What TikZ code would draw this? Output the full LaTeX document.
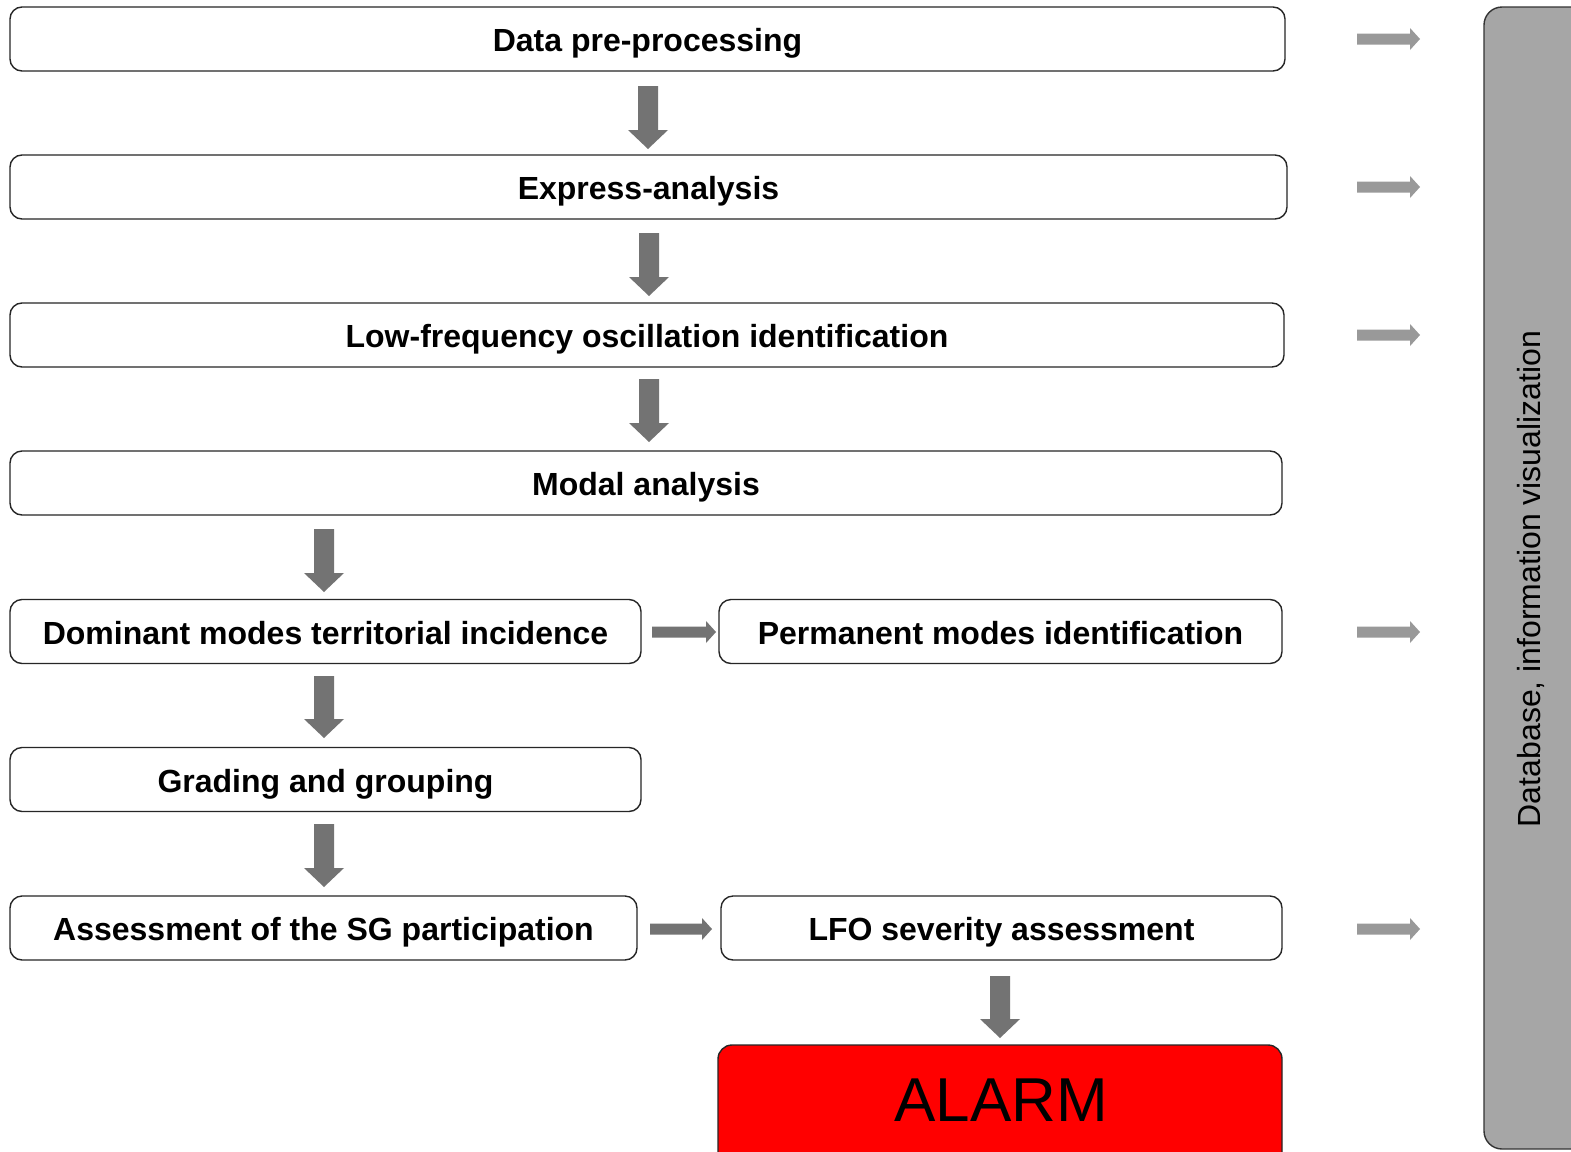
\documentclass[tikz,border=0pt]{standalone}
\usepackage{fontspec}
\setmainfont{Liberation Sans}
\begin{document}
\begin{tikzpicture}[x=1pt,y=-1pt,
  box/.style={draw=black!85, line width=1.4pt, rounded corners=12pt, inner sep=0pt,
    font=\fontsize{32}{38}\selectfont\bfseries, minimum height=64pt, anchor=center,
    text height=25pt, text depth=0pt},
  darkarr/.style={fill=black!55},
  lightarr/.style={fill=black!40}]
\clip (0,0) rectangle (1571,1151);
\fill[white] (0,0) rectangle (1571,1151);
% side bar
\draw[fill=black!35, draw=black!80, line width=1.4pt, rounded corners=18pt] (1484,7) rectangle (1600,1149);
\node[rotate=90, font=\fontsize{32}{38}\selectfont] (db) at (1531,579) {Database, information visualization};
% boxes
\node[box, minimum width=1275pt] (b1) at (647.5,39) {Data pre-processing};
\node[box, minimum width=1277pt] (b2) at (648.5,187) {Express-analysis};
\node[box, minimum width=1274pt] (b3) at (647,335) {Low-frequency oscillation identification};
\node[box, minimum width=1272pt] (b4) at (646,483) {Modal analysis};
\node[box, minimum width=631pt] (b5) at (325.5,631.5) {Dominant modes territorial incidence};
\node[box, minimum width=563pt] (b6) at (1000.5,631.5) {Permanent modes identification};
\node[box, minimum width=631pt] (b7) at (325.5,779.5) {Grading and grouping};
\node[box, minimum width=627pt] (b8) at (323.5,928) {Assessment of the SG participation};
\node[box, minimum width=561pt] (b9) at (1001.5,928) {LFO severity assessment};
\draw[draw=black!85, line width=1.4pt, rounded corners=14pt, fill=red] (718,1045) rectangle (1282,1180);
\node[font=\fontsize{62}{70}\selectfont] (alarm) at (1001,1100) {ALARM};
% down arrows
\newcommand\dnarr[3]{%
  \fill[darkarr] (#1-10,#2) -- (#1+10,#2) -- (#1+10,#3-19) -- (#1+20,#3-19) -- (#1,#3)
    -- (#1-20,#3-19) -- (#1-10,#3-19) -- cycle;}
\dnarr{648}{86}{149}
\dnarr{649}{233}{296}
\dnarr{649}{379}{442}
\dnarr{324}{529}{592}
\dnarr{324}{676}{738}
\dnarr{324}{824}{887}
\dnarr{1000}{976}{1038}
% right arrows
\newcommand\rtarr[4]{%
  \fill[#4] (#2,#1-5.5) -- (#3-10,#1-5.5) -- (#3-10,#1-11) -- (#3,#1) -- (#3-10,#1+11)
    -- (#3-10,#1+5.5) -- (#2,#1+5.5) -- cycle;}
\rtarr{632}{652}{716}{darkarr}
\rtarr{929}{650}{712}{darkarr}
\rtarr{39}{1357}{1420}{lightarr}
\rtarr{187}{1357}{1420}{lightarr}
\rtarr{335}{1357}{1420}{lightarr}
\rtarr{632}{1357}{1420}{lightarr}
\rtarr{929}{1357}{1420}{lightarr}
\end{tikzpicture}
\end{document}
